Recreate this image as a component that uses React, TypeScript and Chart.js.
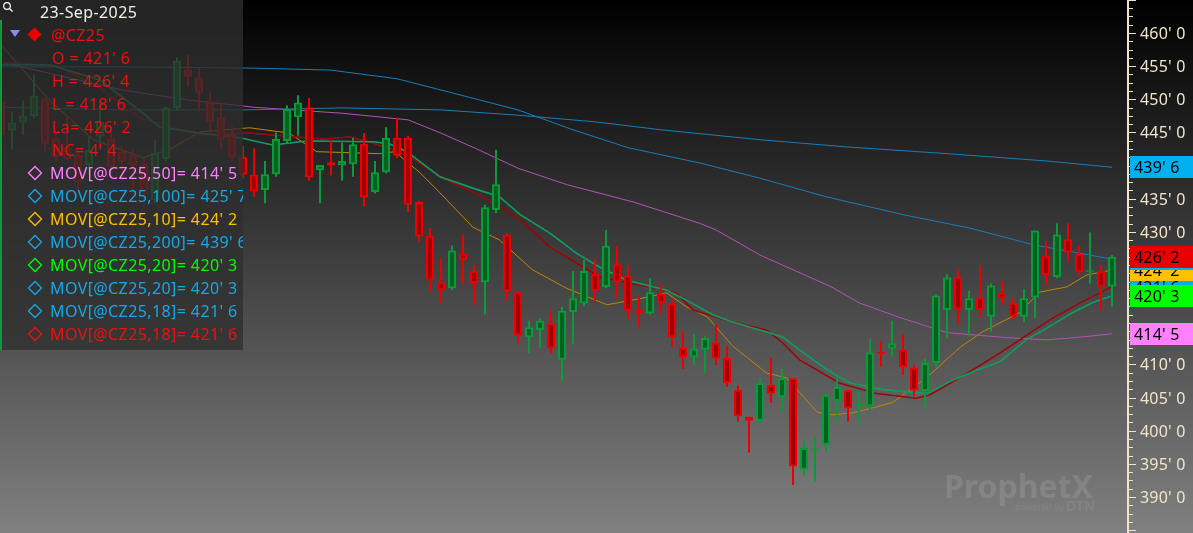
import React, { useEffect, useRef } from "react";
import { Chart, registerables } from "chart.js";

Chart.register(...registerables);

// ---------- DATA ----------
const symbol = "@CZ25";
const dateLabel = "23-Sep-2025";

const opens = [
  449.6, 445.3, 446.5, 447.4, 450.0, 444.0, 442.8, 441.6, 440.1, 444.4,
  444.0, 442.1, 441.6, 440.2, 434.8, 441.0, 448.7, 454.5, 453.3, 449.6,
  447.3, 444.7, 441.3, 438.6, 436.3, 438.7, 443.7, 447.3, 448.8, 439.3,
  440.5, 440.0, 440.2, 443.3, 436.0, 439.0, 444.2, 444.2, 434.5, 429.4,
  422.4, 421.5, 426.7, 424.1, 422.4, 433.3, 429.6, 420.9, 414.1, 415.2,
  416.2, 410.7, 417.9, 419.2, 423.7, 421.7, 425.1, 423.4, 418.2, 417.7,
  420.7, 419.2, 412.5, 411.1, 412.2, 413.3, 411.0, 406.2, 402.1, 401.5,
  406.9, 405.1, 407.9, 394.1, 397.0, 397.9, 404.5, 406.1, 403.7, 403.7,
  411.9, 412.4, 412.2, 409.5, 406.0, 410.2, 418.2, 423.1, 418.2, 420.1,
  417.2, 420.8, 419.3, 417.2, 420.1, 426.4, 423.2, 428.9, 426.7, 424.0,
  424.1, 421.75,
];
const highs = [
  450.3, 448.1, 449.8, 453.7, 450.3, 444.9, 447.3, 441.8, 444.4, 449.9,
  445.1, 442.9, 442.4, 441.1, 443.9, 448.9, 456.3, 456.7, 454.7, 451.1,
  449.4, 445.9, 443.0, 442.6, 440.7, 445.0, 449.1, 450.6, 450.2, 440.1,
  443.9, 443.5, 444.2, 444.9, 440.7, 445.8, 447.2, 444.5, 434.7, 430.6,
  426.0, 428.0, 429.5, 425.0, 434.1, 442.4, 429.8, 421.0, 416.6, 417.0,
  418.0, 418.7, 424.1, 425.8, 425.8, 430.3, 427.9, 424.9, 420.3, 423.0,
  422.1, 419.8, 415.1, 414.6, 414.2, 416.1, 412.8, 406.8, 402.1, 407.9,
  411.0, 409.3, 407.9, 398.5, 399.0, 405.6, 408.2, 406.2, 405.9, 413.8,
  413.5, 416.6, 414.6, 410.0, 410.9, 420.6, 423.6, 424.4, 421.1, 424.9,
  422.2, 422.6, 420.1, 421.4, 430.2, 428.5, 431.3, 431.3, 428.0, 429.9,
  424.9, 426.5,
];
const lows = [
  443.8, 442.4, 444.6, 447.1, 442.2, 440.6, 440.8, 436.3, 438.6, 442.4,
  438.8, 438.8, 435.4, 434.8, 434.3, 440.6, 448.3, 451.9, 448.0, 444.9,
  442.4, 440.6, 438.1, 435.3, 434.3, 438.3, 443.4, 444.5, 437.7, 434.3,
  438.5, 437.7, 438.3, 433.8, 435.8, 438.8, 441.1, 433.0, 428.5, 421.0,
  419.2, 421.2, 422.2, 419.0, 417.5, 432.8, 419.7, 413.2, 411.7, 412.4,
  411.6, 407.5, 413.0, 418.8, 419.5, 421.5, 420.0, 416.8, 415.7, 417.5,
  417.7, 412.7, 409.3, 409.9, 408.7, 409.9, 406.6, 401.4, 396.7, 401.2,
  404.2, 402.9, 391.8, 393.3, 392.3, 396.8, 401.2, 401.4, 401.2, 403.1,
  409.7, 411.2, 408.4, 405.2, 403.5, 409.7, 413.9, 416.2, 414.2, 417.2,
  414.9, 419.0, 416.7, 416.4, 417.0, 422.0, 423.0, 425.5, 423.5, 422.2,
  418.3, 418.75,
];
const closes = [
  444.6, 446.5, 447.5, 450.5, 443.3, 441.3, 441.0, 437.5, 442.3, 446.6,
  439.8, 440.6, 440.1, 436.3, 441.9, 448.7, 455.8, 453.4, 451.0, 446.6,
  443.9, 441.3, 438.6, 436.1, 438.7, 444.0, 448.5, 449.5, 438.2, 440.1,
  440.0, 440.7, 443.2, 435.2, 439.0, 444.2, 441.5, 434.1, 429.3, 422.7,
  421.2, 427.2, 425.8, 422.3, 433.7, 437.2, 421.0, 414.4, 415.6, 416.6,
  412.4, 418.1, 420.0, 424.1, 421.1, 427.9, 422.4, 418.1, 417.7, 420.9,
  419.3, 414.1, 411.1, 412.4, 414.0, 410.9, 407.2, 402.2, 401.5, 407.2,
  405.6, 407.9, 394.6, 397.4, 397.3, 405.4, 406.6, 403.4, 404.1, 411.8,
  411.6, 413.2, 409.6, 406.1, 410.2, 420.4, 423.1, 418.3, 420.0, 418.2,
  421.9, 420.0, 417.2, 420.0, 430.2, 423.5, 429.6, 426.9, 423.9, 424.2,
  421.75, 426.25,
];

// moving averages: candle index positions and values
const ma200X = [0, 11, 22, 31, 40, 47, 54, 60, 69, 77, 86, 95, 101];
const ma200Y = [448.8, 448.4, 448.4, 448.7, 448.4, 447.6, 446.6, 445.4, 443.9, 442.8, 441.8, 440.7, 439.75];

const ma100X = [0, 11, 23, 30, 36, 40, 47, 52, 57, 63.5, 69, 75, 82, 88, 94, 99, 101];
const ma100Y = [454.9, 454.9, 454.7, 454.4, 453.1, 451.4, 448.4, 445.4, 442.7, 440.4, 438.1, 435.3, 432.6, 430.6, 428.0, 426.5, 425.875];

const ma50X = [0, 5, 11, 17, 23, 31, 37, 40, 43, 47, 51.5, 57.5, 63.5, 65, 69, 75.5, 78, 81.5, 86, 91, 95, 98, 101];
const ma50Y = [455.6, 453.7, 451.4, 449.9, 448.8, 447.9, 446.9, 444.9, 442.7, 439.6, 437.1, 434.5, 431.3, 430.3, 426.5, 421.7, 419.3, 417.2, 414.8, 414.1, 413.7, 414.1, 414.625];

const ma10X = [0, 4.4, 8.4, 12.9, 15.3, 18.1, 22.6, 26.2, 28.7, 34.4, 35.8, 38.1, 39.9, 42.9, 45.3, 48.3, 51.4, 55.1, 58.3, 60.5, 62.3, 64.2, 66.5, 69.6, 71.4, 74.2, 75.6, 77.4, 79.6, 81.1, 84.2, 87.2, 89.2, 92.6, 94.4, 96.9, 98.7, 101];
const ma10Y = [458.2, 449.9, 443.9, 441.2, 442.4, 445.1, 445.7, 444.9, 442.1, 441.8, 442.1, 438.9, 435.9, 430.7, 428.8, 424.3, 421.5, 419.0, 420.0, 420.8, 418.7, 417.2, 412.8, 408.7, 408.0, 402.8, 402.4, 402.7, 403.6, 404.3, 408.1, 412.6, 414.9, 417.8, 420.9, 421.7, 423.5, 424.25];

const ma20X = [0, 4.4, 9, 12.9, 14.4, 18.1, 21.7, 24.7, 27.8, 33.8, 35.3, 36.9, 39.9, 42.9, 45.3, 47.2, 49.9, 52.3, 54.4, 56.9, 60.5, 62.3, 64.7, 66.5, 69.6, 71.1, 72.6, 75.1, 77.2, 80.2, 84.2, 86.2, 88.8, 90.8, 93.2, 95.3, 97.4, 99.2, 101];
const ma20Y = [455.2, 455.2, 452.9, 447.9, 445.8, 444.9, 444.2, 443.1, 443.7, 443.6, 443.3, 442.1, 438.3, 436.6, 435.3, 432.6, 429.8, 426.8, 424.7, 422.7, 421.2, 419.7, 417.5, 416.4, 414.9, 414.1, 412.2, 409.2, 407.2, 406.2, 405.6, 407.4, 409.2, 410.4, 413.7, 415.7, 417.8, 419.3, 420.375];

const ma18X = [0, 5.3, 9, 12.6, 18.1, 22.6, 29.2, 31.7, 33.8, 36.9, 40.5, 42.9, 45.3, 47.2, 49.9, 52.9, 54.4, 59, 61.4, 62.9, 66.5, 69.6, 71.1, 72.6, 76.2, 79.6, 83.2, 84.4, 87.2, 90.8, 95.3, 98.1, 101];
const ma18Y = [455.6, 455.0, 451.7, 447.2, 444.6, 444.9, 444.0, 444.3, 443.4, 441.6, 437.8, 436.0, 433.9, 431.8, 427.7, 424.7, 423.2, 421.7, 420.8, 418.2, 416.4, 415.2, 413.2, 410.7, 407.2, 405.6, 404.9, 405.4, 408.0, 411.7, 416.7, 419.3, 421.75];

const axisMajorTicks = [390, 395, 400, 405, 410, 415, 420, 425, 430, 435, 440, 445, 450, 455, 460];

// ---------- STYLE ----------
const FONT = '"Noto Sans", "Open Sans", sans-serif';
const UP_OUT = "#0a9a3a";
const UP_FILL = "#03621f";
const DN_OUT = "#ee0000";
const DN_FILL = "#a00000";
const PINK = "#ff80ff";
const SKY = "#14a8e8";
const ORANGE = "#ffc000";
const LIME = "#00ff00";
const RED = "#ee1010";
const BOX_BLUE = "#00b0f0";
const BOX_RED = "#e80000";

const X_MIN = -1 / 11;
const X_MAX = X_MIN + 1128 / 11;
const Y_MAX = 460 + 33 / 6.629;
const Y_MIN = Y_MAX - 533 / 6.629;

function fmt(v: number): string {
  let whole = Math.floor(v + 1e-9);
  let e = Math.round((v - whole) * 8);
  if (e === 8) {
    whole += 1;
    e = 0;
  }
  return `${whole}' ${e}`;
}

function last(a: number[]) {
  return a[a.length - 1];
}

export default function App() {
  const ref = useRef<HTMLCanvasElement>(null);

  useEffect(() => {
    const canvas = ref.current;
    if (!canvas) return;
    const idx = opens.map((_, i) => i);
    const up = idx.map((i) => closes[i] >= opens[i]);
    const outline = up.map((u) => (u ? UP_OUT : DN_OUT));
    const fillC = up.map((u) => (u ? UP_FILL : DN_FILL));

    const line = (xs: number[], ys: number[], color: string, width: number, order: number, dash: number[] = []) => ({
      type: "line" as const,
      data: xs.map((x, i) => ({ x, y: ys[i] })),
      borderColor: color,
      borderWidth: width,
      borderDash: dash,
      pointRadius: 0,
      tension: 0,
      fill: false,
      order,
    });

    const bgPlugin = {
      id: "bg",
      beforeDraw(chart: any) {
        const ctx = chart.ctx;
        const g = ctx.createLinearGradient(0, 0, 0, chart.height);
        g.addColorStop(0, "#000000");
        g.addColorStop(1, "#808080");
        ctx.save();
        ctx.fillStyle = g;
        ctx.fillRect(0, 0, chart.width, chart.height);
        // watermark
        ctx.font = `bold 32px ${FONT}`;
        ctx.fillStyle = "rgba(255,255,255,0.11)";
        ctx.textBaseline = "alphabetic";
        ctx.fillText("ProphetX", 944, 498);
        ctx.font = `9px ${FONT}`;
        ctx.fillStyle = "rgba(255,255,255,0.08)";
        ctx.fillText("powered by", 1015, 510);
        ctx.font = `bold 14px ${FONT}`;
        ctx.fillText("DTN", 1066, 511);
        ctx.restore();
      },
    };

    const overlayPlugin = {
      id: "overlay",
      afterDraw(chart: any) {
        const ctx: any = chart.ctx;
        const ys = chart.scales.y;
        ctx.save();

        // ----- legend panel -----
        ctx.fillStyle = "rgba(46,46,46,0.78)";
        ctx.fillRect(0, 0, 243, 350);
        ctx.fillStyle = "#12983a";
        ctx.fillRect(0, 20, 2, 330);

        ctx.save();
        ctx.beginPath();
        ctx.rect(0, 0, 243, 350);
        ctx.clip();

        // magnifier
        ctx.strokeStyle = "#ffffff";
        ctx.lineWidth = 1.2;
        ctx.beginPath();
        ctx.arc(7, 6, 3.3, 0, Math.PI * 2);
        ctx.stroke();
        ctx.beginPath();
        ctx.moveTo(9.5, 8.5);
        ctx.lineTo(12.5, 11.5);
        ctx.stroke();

        ctx.textBaseline = "alphabetic";
        ctx.font = `16px ${FONT}`;
        ctx.letterSpacing = "0.4px";
        ctx.fillStyle = "#f2f0e6";
        ctx.fillText(dateLabel, 40, 18);

        // triangle
        ctx.fillStyle = "#8a8aff";
        ctx.beginPath();
        ctx.moveTo(10, 30);
        ctx.lineTo(20, 30);
        ctx.lineTo(15, 37);
        ctx.closePath();
        ctx.fill();
        // red diamond
        ctx.fillStyle = "#ee0000";
        ctx.beginPath();
        ctx.moveTo(34.5, 27.5);
        ctx.lineTo(41.5, 34.5);
        ctx.lineTo(34.5, 41.5);
        ctx.lineTo(27.5, 34.5);
        ctx.closePath();
        ctx.fill();

        ctx.fillStyle = RED;
        ctx.fillText(symbol, 51, 41);
        const n = closes.length;
        const ohl = [
          `O = ${fmt(opens[n - 1])}`,
          `H = ${fmt(highs[n - 1])}`,
          `L = ${fmt(lows[n - 1])}`,
          `La= ${fmt(closes[n - 1])}`,
          `NC= ${fmt(closes[n - 1] - closes[n - 2])}`,
        ];
        ohl.forEach((t, k) => ctx.fillText(t, 52, 64 + 23 * k));

        const rows: [string, number[], string][] = [
          ["MOV[@CZ25,50]", ma50Y, PINK],
          ["MOV[@CZ25,100]", ma100Y, SKY],
          ["MOV[@CZ25,10]", ma10Y, ORANGE],
          ["MOV[@CZ25,200]", ma200Y, SKY],
          ["MOV[@CZ25,20]", ma20Y, LIME],
          ["MOV[@CZ25,20]", ma20Y, SKY],
          ["MOV[@CZ25,18]", ma18Y, SKY],
          ["MOV[@CZ25,18]", ma18Y, RED],
        ];
        rows.forEach(([lab, arr, col], k) => {
          const base = 179 + 23 * k;
          const cy = base - 6;
          ctx.strokeStyle = col;
          ctx.lineWidth = 1.3;
          ctx.beginPath();
          ctx.moveTo(35, cy - 6.5);
          ctx.lineTo(41.5, cy);
          ctx.lineTo(35, cy + 6.5);
          ctx.lineTo(28.5, cy);
          ctx.closePath();
          ctx.stroke();
          ctx.fillStyle = col;
          ctx.fillText(`${lab}= ${fmt(last(arr))}`, 50, base);
        });
        ctx.restore();
        ctx.letterSpacing = "0px";

        // ----- right axis -----
        ctx.fillStyle = "#efe4c8";
        ctx.fillRect(1127, 0, 2, chart.height);
        for (let v = 385; v <= 465.001; v += 1.25) {
          const y = Math.round(ys.getPixelForValue(v));
          const major = Math.abs(v / 5 - Math.round(v / 5)) < 1e-6;
          ctx.fillRect(1129, y, major ? 7 : 4, 1);
        }
        ctx.font = `16px ${FONT}`;
        ctx.letterSpacing = "0.2px";
        ctx.fillStyle = "#f0e6cc";
        axisMajorTicks.forEach((v) => {
          const y = ys.getPixelForValue(v);
          ctx.fillText(fmt(v), 1140, y + 6);
        });

        // ----- value boxes -----
        const boxes: [number, string][] = [
          [last(ma18Y), BOX_RED],
          [last(ma18Y), BOX_BLUE],
          [last(ma20Y), BOX_BLUE],
          [last(ma200Y), BOX_BLUE],
          [last(ma50Y), PINK],
          [last(ma10Y), ORANGE],
          [last(ma100Y), BOX_BLUE],
          [last(ma20Y), LIME],
          [closes[n - 1], BOX_RED],
        ];
        boxes.forEach(([v, col]) => {
          const y = ys.getPixelForValue(v);
          ctx.fillStyle = col;
          ctx.fillRect(1130, Math.round(y - 11), 63, 22);
          ctx.fillStyle = "#000000";
          ctx.fillText(fmt(v), 1134, y + 6);
        });

        ctx.restore();
      },
    };

    const chart = new Chart(canvas, {
      type: "bar",
      data: {
        datasets: [
          line(ma200X, ma200Y, "#1a7db4", 1, 10) as any,
          line(ma100X, ma100Y, "#1a7db4", 1, 10) as any,
          line(ma50X, ma50Y, "#b352b6", 1, 10) as any,
          line(ma10X, ma10Y, "#c08600", 1, 10) as any,
          line(ma18X, ma18Y, "#1a7db4", 1, 9) as any,
          line(ma18X, ma18Y, "#a30000", 1.5, 8) as any,
          line(ma20X, ma20Y, "#0ea63a", 1.6, 7) as any,
          line(ma20X, ma20Y, "#1a80c0", 1.2, 6, [2, 3]) as any,
          {
            type: "bar",
            data: idx.map((i) => ({ x: i, y: [lows[i], highs[i]] })),
            backgroundColor: outline,
            borderWidth: 0,
            barThickness: 2,
            grouped: false,
            inflateAmount: 0,
            order: 2,
          } as any,
          {
            type: "bar",
            data: idx.map((i) => ({ x: i, y: [opens[i], closes[i]] })),
            backgroundColor: fillC,
            borderColor: outline,
            borderWidth: 2,
            borderSkipped: false,
            barThickness: 8,
            grouped: false,
            inflateAmount: 0,
            order: 1,
          } as any,
        ],
      },
      options: {
        responsive: false,
        animation: false,
        devicePixelRatio: 1,
        events: [],
        layout: { padding: { left: 0, top: 0, bottom: 0, right: 65 } },
        plugins: { legend: { display: false }, tooltip: { enabled: false } },
        scales: {
          x: { type: "linear", min: X_MIN, max: X_MAX, display: false, offset: false, grid: { display: false } },
          y: { type: "linear", min: Y_MIN, max: Y_MAX, display: false, grid: { display: false } },
        },
      },
      plugins: [bgPlugin, overlayPlugin],
    } as any);

    return () => chart.destroy();
  }, []);

  return (
    <div style={{ position: "fixed", left: 0, top: 0, width: 1193, height: 533, overflow: "hidden" }}>
      <canvas ref={ref} width={1193} height={533} style={{ display: "block", width: 1193, height: 533 }} />
    </div>
  );
}
